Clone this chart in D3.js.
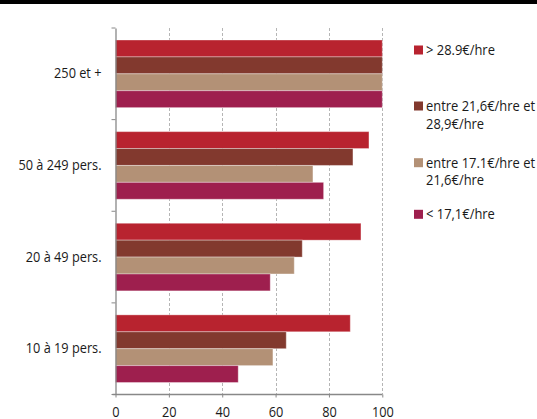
<!DOCTYPE html>
<html><head><meta charset="utf-8">
<script src="https://cdn.jsdelivr.net/npm/d3@7"></script>
<style>body{margin:0;background:#fff}svg{display:block}text{font-family:"Open Sans",sans-serif;fill:#1a1a1a}</style>
</head><body>
<script>
const categories = ["250 et +", "50 à 249 pers.", "20 à 49 pers.", "10 à 19 pers."];
const seriesNames = [["> 28.9€/hre"], ["entre 21,6€/hre et", "28,9€/hre"], ["entre 17.1€/hre et", "21,6€/hre"], ["< 17,1€/hre"]];
const seriesColors = ["#B8232F", "#82392E", "#B39176", "#9E1F4E"];
const sHigh = [100, 95, 92, 88];
const sMidHigh = [100, 89, 70, 64];
const sMidLow = [100, 74, 67, 59];
const sLow = [100, 78, 58, 46];
const xTicks = [0, 20, 40, 60, 80, 100];

const series = [sHigh, sMidHigh, sMidLow, sLow];
const W = 537, H = 419;
const FS = 14.5;
const svg = d3.select("body").append("svg").attr("width", W).attr("height", H);

function measure(str) {
  const t = svg.append("text").style("font-size", FS + "px").text(str);
  const w = t.node().getComputedTextLength();
  t.remove();
  return w;
}
// horizontal condensation factors so widths match the reference's narrow typeface
const K_AXIS = 83 / measure("50 à 249 pers.");
const K_LEG = 109 / measure("entre 21,6€/hre et");

function condense(sel, k) {
  sel.each(function() {
    const t = d3.select(this);
    const w = this.getComputedTextLength();
    const anchor = t.attr("text-anchor") || "start";
    const x0 = +t.attr("x") || 0;
    const nw = w * k;
    let nx = x0;
    if (anchor === "end") nx = x0 - nw;
    else if (anchor === "middle") nx = x0 - nw / 2;
    t.attr("text-anchor", "start").attr("x", nx)
      .attr("textLength", nw).attr("lengthAdjust", "spacingAndGlyphs");
  });
}

svg.append("rect").attr("x", 0).attr("y", 0).attr("width", W).attr("height", 4).attr("fill", "#000");

const x = d3.scaleLinear().domain([0, 100]).range([115.5, 382.3]);
const y = d3.scaleBand().domain(categories).range([28, 394.5]);
const yi = d3.scaleBand().domain(d3.range(4)).range([12, y.bandwidth() - 12]);

// grid
svg.append("g").selectAll("line").data(xTicks.slice(1)).join("line")
  .attr("x1", d => Math.round(x(d)) + 0.5).attr("x2", d => Math.round(x(d)) + 0.5)
  .attr("y1", 28).attr("y2", 394.5)
  .attr("stroke", "#b5b5b5").attr("stroke-dasharray", "3,2");

// bars
const g = svg.append("g");
categories.forEach((c, ci) => {
  series.forEach((s, si) => {
    g.append("rect")
      .attr("x", x(0)).attr("y", y(c) + yi(si))
      .attr("width", x(s[ci]) - x(0)).attr("height", yi.bandwidth())
      .attr("fill", seriesColors[si])
      .attr("stroke", "#fff").attr("stroke-opacity", 0.35).attr("stroke-width", 1);
  });
});

// y axis
const yAxis = d3.axisLeft(y).tickSize(0).tickPadding(14);
const ya = svg.append("g").attr("transform", `translate(${x(0)},0)`).call(yAxis);
ya.select(".domain").attr("stroke", "#888").attr("stroke-width", 1.3);
ya.selectAll("text").style("font-size", FS + "px").attr("fill", "#1a1a1a").attr("text-anchor", "end");
condense(ya.selectAll("text"), K_AXIS);
// boundary ticks
const bounds = categories.map(c => y(c)).concat([y.range()[1]]);
svg.append("g").selectAll("line").data(bounds).join("line")
  .attr("x1", x(0) - 4).attr("x2", x(0)).attr("y1", d => d).attr("y2", d => d)
  .attr("stroke", "#888").attr("stroke-width", 1);

// x axis
const xAxis = d3.axisBottom(x).tickValues(xTicks).tickSize(3).tickPadding(9.5);
const xa = svg.append("g").attr("transform", `translate(0,394.5)`).call(xAxis);
xa.select(".domain").attr("stroke", "#888").attr("stroke-width", 1.3).attr("d", `M${x(0)-3},0H${x(100)}`);
xa.selectAll(".tick line").attr("stroke", "#888");
xa.selectAll("text").style("font-size", FS + "px").attr("fill", "#1a1a1a").attr("text-anchor", "middle");
condense(xa.selectAll("text"), K_AXIS);

// legend
const legY = [50, 106, 162.7, 214.3];
const lg = svg.append("g");
seriesNames.forEach((lines, i) => {
  lg.append("rect").attr("x", 414).attr("y", legY[i] - 4.5).attr("width", 9).attr("height", 9).attr("fill", seriesColors[i]);
  lines.forEach((t, li) => {
    lg.append("text").attr("x", 426).attr("y", legY[i] + li * 17.5).attr("dy", "0.35em")
      .style("font-size", FS + "px").text(t);
  });
});
condense(lg.selectAll("text"), K_LEG);
</script>
</body></html>
